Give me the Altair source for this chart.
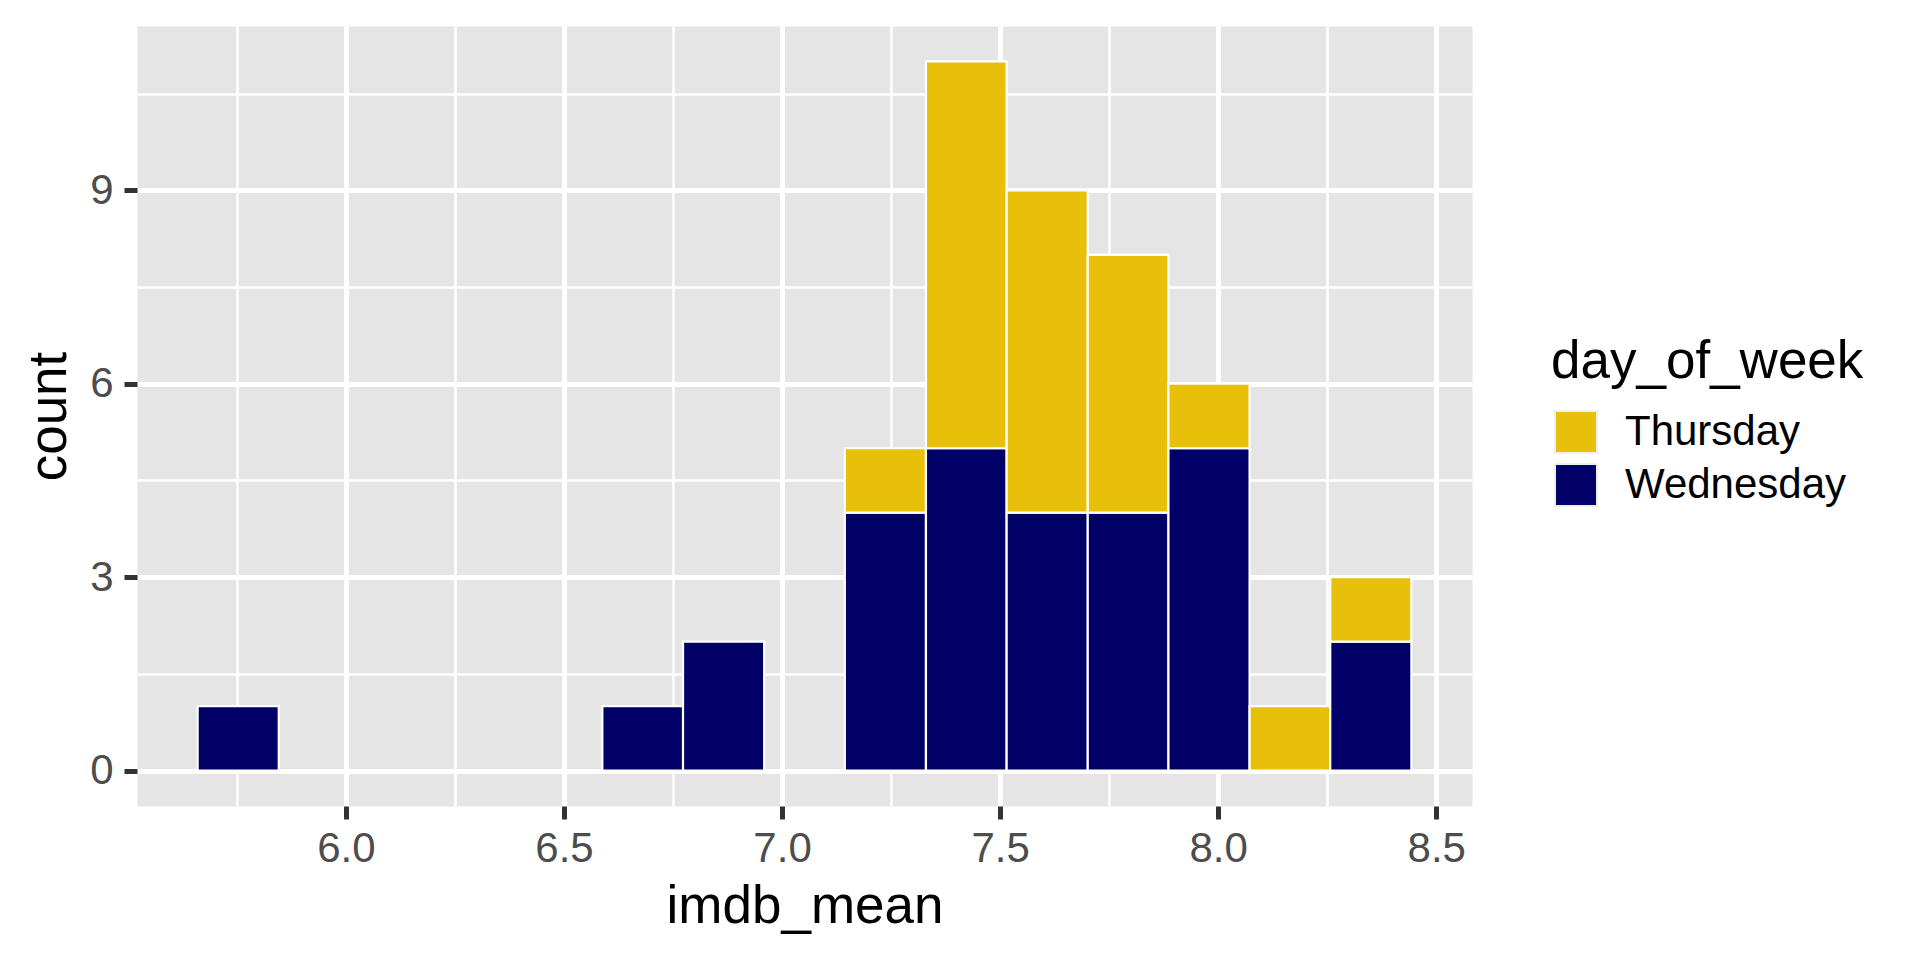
import altair as alt
import pandas as pd

# histogram bins (imdb_mean) that hold at least one episode
bin_lo = [5.660, 6.588, 6.773, 7.144, 7.330, 7.515, 7.701, 7.886, 8.072, 8.257]
bin_hi = [5.846, 6.773, 6.959, 7.330, 7.515, 7.701, 7.886, 8.072, 8.257, 8.443]
wednesday = [1, 1, 2, 4, 5, 4, 4, 5, 0, 2]
thursday = [0, 0, 0, 1, 6, 5, 4, 1, 1, 1]

days = ["Thursday", "Wednesday"]
colors = ["#E8C00A", "#000066"]

x_major = [6.0, 6.5, 7.0, 7.5, 8.0, 8.5]
x_minor = [5.75, 6.25, 6.75, 7.25, 7.75, 8.25]
y_major = [0, 3, 6, 9]
y_minor = [1.5, 4.5, 7.5, 10.5]
x_domain = [5.521, 8.582]
y_domain = [-0.55, 11.55]

rows = []
for lo, hi, w, t in zip(bin_lo, bin_hi, wednesday, thursday):
    if w:
        rows.append({"lo": lo, "hi": hi, "day": "Wednesday", "count": w, "order": 0})
    if t:
        rows.append({"lo": lo, "hi": hi, "day": "Thursday", "count": t, "order": 1})
df = pd.DataFrame(rows)

xs = alt.Scale(domain=x_domain, nice=False, zero=False)
ys = alt.Scale(domain=y_domain, nice=False, zero=False)

grid = alt.Chart(df).mark_point(opacity=0).encode(
    x=alt.X("lo:Q", scale=xs, title=None,
            axis=alt.Axis(orient="top", values=x_minor, grid=True, gridColor="white",
                          gridWidth=2.5, labels=False, ticks=False, domain=False)),
    y=alt.Y("count:Q", scale=ys, title=None,
            axis=alt.Axis(orient="right", values=y_minor, grid=True, gridColor="white",
                          gridWidth=2.5, labels=False, ticks=False, domain=False)),
)

bars = alt.Chart(df).transform_stack(
    stack="count", groupby=["lo"], as_=["y0", "y1"],
    sort=[alt.SortField("order", order="ascending")],
).mark_bar(stroke="white", strokeWidth=2.2, opacity=1).encode(
    x=alt.X("lo:Q", scale=xs, title="imdb_mean",
            axis=alt.Axis(orient="bottom", values=x_major, format=".1f", grid=True,
                          gridColor="white", gridWidth=5, domain=False,
                          tickColor="#333333", tickWidth=5, tickSize=13,
                          labelFontSize=42, labelColor="#4D4D4D", labelPadding=42,
                          labelBaseline="alphabetic", labelFlush=False, labelOverlap=False,
                          titleFontSize=53, titleFontWeight="normal", titleColor="black",
                          titleX=667.5, titleY=116, titleBaseline="alphabetic",
                          titleAlign="center")),
    x2="hi:Q",
    y=alt.Y("y0:Q", scale=ys, title="count",
            axis=alt.Axis(orient="left", values=y_major, format="d", grid=True,
                          gridColor="white", gridWidth=5, domain=False,
                          tickColor="#333333", tickWidth=5, tickSize=13,
                          labelFontSize=42, labelColor="#4D4D4D", labelPadding=11,
                          labelFlush=False, labelOverlap=False,
                          titleFontSize=53, titleFontWeight="normal", titleColor="black",
                          titleAngle=270, titleX=-72, titleY=390,
                          titleBaseline="alphabetic", titleAlign="center")),
    y2="y1:Q",
    color=alt.Color("day:N", scale=alt.Scale(domain=days, range=colors),
                    legend=alt.Legend(orient="none", legendX=1414, legendY=310,
                                      title="day_of_week", titleFontSize=53,
                                      titleFontWeight="normal", titleColor="black",
                                      titlePadding=21, titleLimit=800,
                                      labelFontSize=42, labelLimit=600,
                                      labelColor="black", symbolType="square",
                                      symbolSize=1764, symbolStrokeColor="#EFEFEF",
                                      symbolStrokeWidth=2, symbolOpacity=1,
                                      rowPadding=3, labelOffset=27, padding=0,
                                      symbolOffset=3)),
)

chart = (
    alt.layer(grid, bars)
    .resolve_axis(x="independent", y="independent")
    .properties(width=1335, height=780,
                padding={"left": 129, "top": 18, "right": 436, "bottom": 140},
                autosize=alt.AutoSizeParams(type="none"))
    .configure(font="Liberation Sans", background="white")
    .configure_view(fill="#E5E5E5", stroke="transparent")
)

chart.save("out.html", embed_options={"renderer": "svg", "actions": False})
